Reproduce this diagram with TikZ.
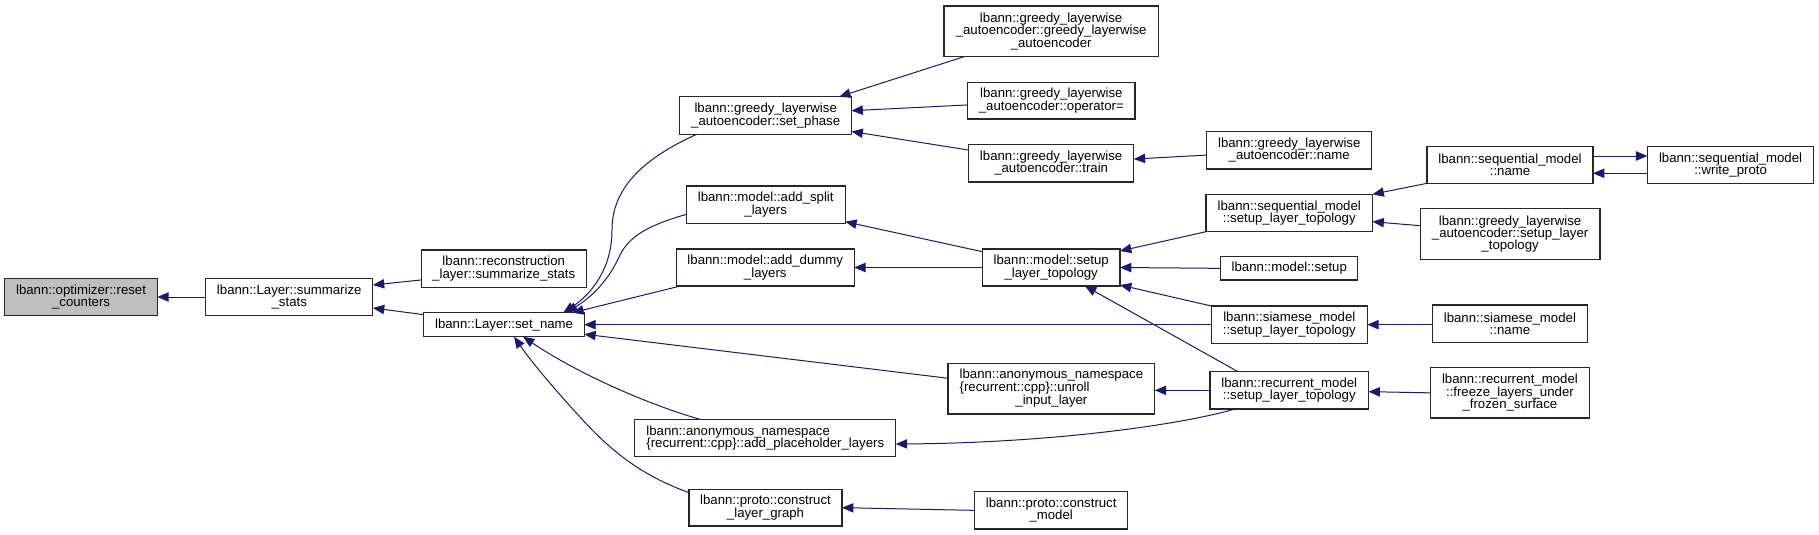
\documentclass[tikz,border=0pt]{standalone}
\usepackage{fontspec}
\setmainfont{Liberation Sans}
\usetikzlibrary{arrows.meta,calc}
\definecolor{navy}{HTML}{191970}
\definecolor{rootfill}{HTML}{BFBFBF}
\newcommand{\gbox}[7][]{%
  \node[box,#1,minimum width={(#5-#3)*0.75pt},minimum height={(#6-#4)*0.75pt}] (#2) at ({(#3+#5)/2},{(#4+#6)/2}) {#7};}
\tikzset{
  box/.style={draw=black!85, line width=0.85pt, fill=white, inner sep=0pt, outer sep=0pt, align=center,
    font=\fontsize{9.9}{9.25}\selectfont},
  callarrow/.style={draw=navy, line width=0.75pt, {Triangle[length=8.5pt,width=7pt]}-}
}
\begin{document}
\begin{tikzpicture}[x=0.75pt,y=-0.75pt]
\useasboundingbox[fill=white] (0,0) rectangle (1819,535);
% nodes
\gbox[fill=rootfill]{reset}{4.7}{278.3}{157.4}{315.7}{lbann::optimizer::reset\\\_counters}
\gbox{summ}{205.6}{278.3}{372.9}{315.7}{lbann::Layer::summarize\\\_stats}
\gbox{recon}{421.1}{250}{586.4}{287.3}{lbann::reconstruction\\\_layer::summarize\_stats}
\gbox{sn}{423.9}{312.7}{584.3}{336.7}{lbann::Layer::set\_name}
\gbox{sp}{679.9}{96.7}{851.5}{134.3}{lbann::greedy\_layerwise\\\_autoencoder::set\_phase}
\gbox{asplit}{686.2}{186}{845.2}{223.3}{lbann::model::add\_split\\\_layers}
\gbox{adummy}{676.3}{249}{854.2}{286}{lbann::model::add\_dummy\\\_layers}
\gbox[align=left]{ap}{634.8}{419.3}{895.8}{456.7}{lbann::anonymous\_namespace\\\{recurrent::cpp\}::add\_placeholder\_layers}
\gbox{clg}{689}{489.3}{842}{526}{lbann::proto::construct\\\_layer\_graph}
\gbox{gg}{944}{6}{1158.3}{56.7}{lbann::greedy\_layerwise\\\_autoencoder::greedy\_layerwise\\\_autoencoder}
\gbox{gop}{967.7}{82.3}{1135}{119}{lbann::greedy\_layerwise\\\_autoencoder::operator=}
\gbox{gtr}{968.5}{144.7}{1133.8}{182}{lbann::greedy\_layerwise\\\_autoencoder::train}
\gbox{msl}{982.4}{249}{1120}{286}{lbann::model::setup\\\_layer\_topology}
\gbox{ur}{948}{363.3}{1154.8}{414}{\begin{tabular}{@{}l@{}}lbann::anonymous\_namespace\\\{recurrent::cpp\}::unroll\\\multicolumn{1}{@{}c@{}}{\_input\_layer}\end{tabular}}
\gbox{cm}{974.5}{491.7}{1127.9}{529}{lbann::proto::construct\\\_model}
\gbox{gname}{1206.8}{131.7}{1371.7}{169}{lbann::greedy\_layerwise\\\_autoencoder::name}
\gbox{ssl}{1206}{194.3}{1372.5}{231.7}{lbann::sequential\_model\\::setup\_layer\_topology}
\gbox{ms}{1220.9}{256.7}{1357.7}{280}{lbann::model::setup}
\gbox{siam}{1211.3}{306}{1367.3}{343.3}{lbann::siamese\_model\\::setup\_layer\_topology}
\gbox{rs}{1210}{371.7}{1368.5}{409}{lbann::recurrent\_model\\::setup\_layer\_topology}
\gbox{seqn}{1427}{146.7}{1593}{183.3}{lbann::sequential\_model\\::name}
\gbox{gsl}{1420.2}{208.7}{1600}{259.3}{lbann::greedy\_layerwise\\\_autoencoder::setup\_layer\\\_topology}
\gbox{wp}{1647.3}{146.7}{1813.8}{183.3}{lbann::sequential\_model\\::write\_proto}
\gbox{siamn}{1432.7}{305}{1587.1}{342.3}{lbann::siamese\_model\\::name}
\gbox{fr}{1430.7}{367.7}{1589.1}{418}{lbann::recurrent\_model\\::freeze\_layers\_under\\\_frozen\_surface}
% edges
\draw[callarrow] (reset.east) -- (summ.west);
\draw[callarrow] ($(summ.east)+(0,-12)$) -- ($(recon.west)+(0,11.3)$);
\draw[callarrow] ($(summ.east)+(0,11)$) -- ($(sn.west)+(0,-10)$);
\draw[callarrow] ($(sn.north east)+(-21,0)$) .. controls (590,295) and (612,270) .. (612,230) .. controls (612,190) and (640,160) .. ($(sp.south west)+(16.8,0)$);
\draw[callarrow] ($(sn.north east)+(-18,0)$) .. controls (590,298) and (608,282) .. (620,255) .. controls (630,235) and (650,225) .. ($(asplit.west)+(0,9.7)$);
\draw[callarrow] ($(sn.north east)+(-12,0)$) -- ($(adummy.south west)+(4,0)$);
\draw[callarrow] (sn.east) -- (sn.east -| siam.west);
\draw[callarrow] ($(sn.east)+(0,9.5)$) -- ($(ur.west)+(0,-10.4)$);
\draw[callarrow] ($(sn.south)+(19,0)$) .. controls (580,375) and (650,405) .. ($(ap.north west)+(65,0)$);
\draw[callarrow] ($(sn.south)+(10,0)$) .. controls (530,360) and (555,390) .. (580,417) .. controls (610,450) and (640,475) .. ($(clg.west)+(0,-15)$);
\draw[callarrow] ($(sp.north east)+(-12.3,0)$) -- ($(gg.south west)+(20,0)$);
\draw[callarrow] ($(sp.east)+(0,-4.8)$) -- ($(gop.west)+(0,4.3)$);
\draw[callarrow] ($(sp.east)+(0,16)$) -- ($(gtr.west)+(0,-13.3)$);
\draw[callarrow] ($(gtr.east)+(0,-4.3)$) -- ($(gname.west)+(0,4.7)$);
\draw[callarrow] ($(asplit.south east)+(0,-1.6)$) -- ($(msl.north west)+(0,2.7)$);
\draw[callarrow] (adummy.east) -- (msl.west);
\draw[callarrow] ($(msl.north east)+(0,2)$) -- (ssl.south west);
\draw[callarrow] (msl.east) -- (ms.west);
\draw[callarrow] ($(msl.south east)+(0,-1)$) -- (siam.north west);
\draw[callarrow] ($(msl.south east)+(-35,0)$) -- ($(rs.north west)+(28,0)$);
\draw[callarrow] (ssl.north east) -- (seqn.south west);
\draw[callarrow] ($(ssl.east)+(0,8.7)$) -- ($(gsl.west)+(0,-8.3)$);
\draw[callarrow] ($(wp.west)+(0,-9)$) -- ($(seqn.east)+(0,-9)$);
\draw[callarrow] ($(seqn.east)+(0,8.3)$) -- ($(wp.west)+(0,8.3)$);
\draw[callarrow] (siam.east) -- (siam.east -| siamn.west);
\draw[callarrow] (rs.west -| ur.east) -- (rs.west);
\draw[callarrow] ($(ap.east)+(0,6)$) .. controls (1050,443) and (1180,425) .. ($(rs.south west)+(25,0)$);
\draw[callarrow] ($(rs.east)+(0,1.3)$) -- (fr.west);
\draw[callarrow] (clg.east) -- (cm.west);
\end{tikzpicture}
\end{document}
